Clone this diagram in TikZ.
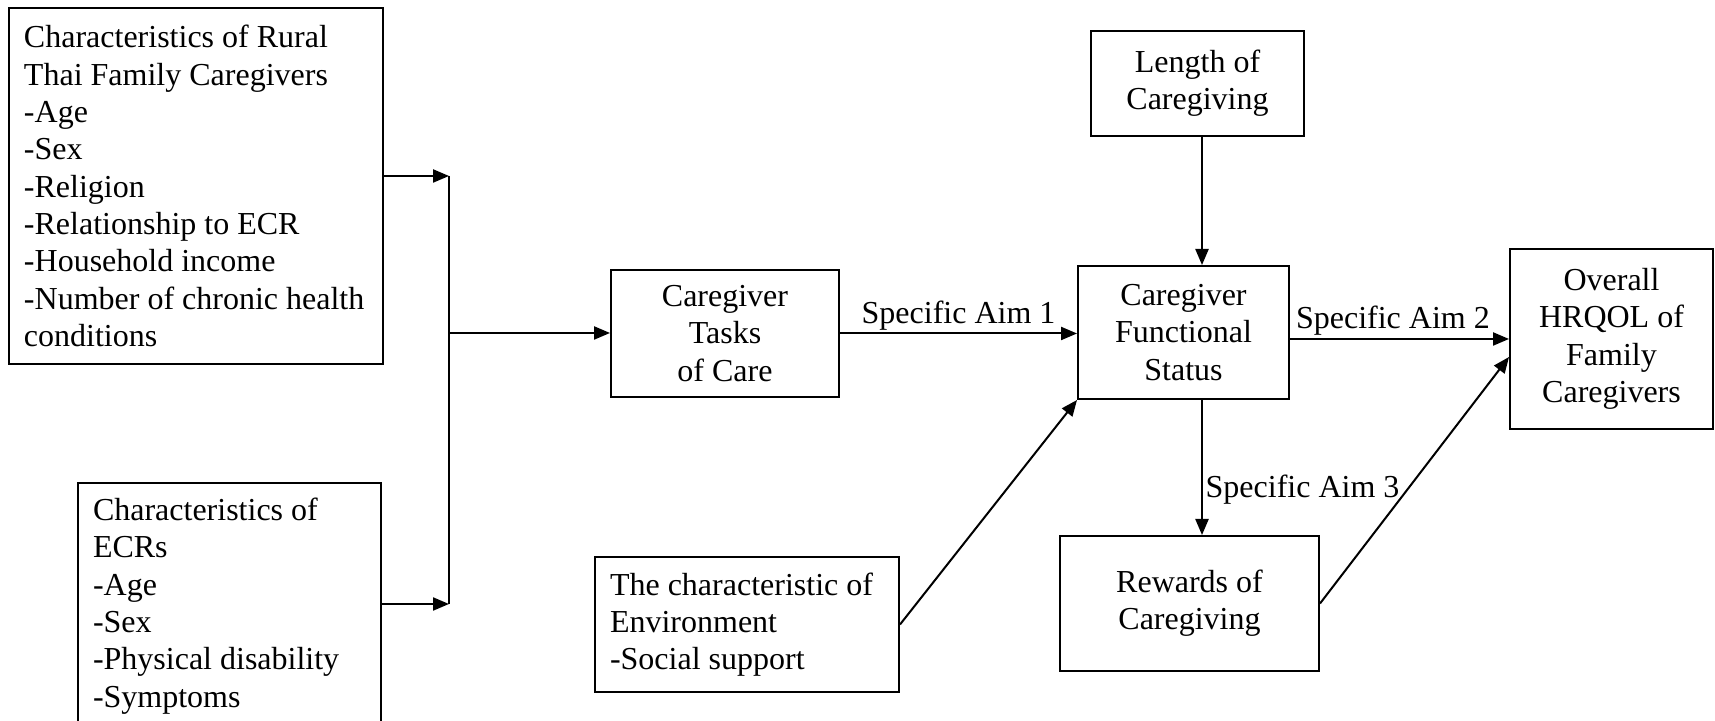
\documentclass[tikz,border=0pt]{standalone}
\usepackage{fontspec}
\setmainfont{Liberation Serif}
\usetikzlibrary{arrows.meta}
\newlength{\px}
\setlength{\px}{0.375pt}

\begin{document}
\begin{tikzpicture}[x=0.375pt,y=-0.375pt,
        font=\fontsize{12}{14}\selectfont,
        box/.style={draw,line width=0.75pt,inner sep=0pt,align=center},
        listbox/.style={draw,line width=0.75pt,inner xsep=15\px,inner ysep=0pt,align=flush left},
        arr/.style={line width=0.75pt,-{Triangle[length=6pt,width=4.9pt]}},
        lbl/.style={inner sep=1pt}]
    \useasboundingbox (0,0) rectangle (1715,721);
    \node[listbox,text width=344\px,minimum width=374\px,minimum height=356\px] (cgchar) at (196,186)
        {Characteristics of Rural\\Thai Family Caregivers\\-Age\\-Sex\\-Religion\\-Relationship to ECR\\-Household income\\-Number of chronic health\\conditions};
    \node[listbox,text width=273\px,minimum width=303\px,minimum height=246\px] (ecrchar) at (229.5,606)
        {Characteristics of\\ECRs\\-Age\\-Sex\\-Physical disability\\-Symptoms};
    \node[listbox,text width=274\px,minimum width=304\px,minimum height=135\px] (envchar) at (747,624.5)
        {The characteristic of\\Environment\\-Social support};
    \node[box,minimum width=228\px,minimum height=127\px] (tasks) at (725,333.5) {Caregiver\\Tasks\\of Care};
    \node[box,minimum width=211\px,minimum height=133\px] (functional) at (1183.5,332.5) {Caregiver\\Functional\\Status};
    \node[box,minimum width=213\px,minimum height=105\px] (length) at (1197.5,83.5) {Length of\\Caregiving};
    \node[box,minimum width=259\px,minimum height=135\px] (rewards) at (1189.5,603.5) {Rewards of\\Caregiving};
    \node[box,minimum width=203\px,minimum height=180\px] (overall) at (1611.5,339) {Overall\\HRQOL of\\Family\\Caregivers};

    \coordinate (jtop) at (449,176);
    \coordinate (jmid) at (449,333);
    \coordinate (jbot) at (449,604);

    \draw[arr] (cgchar.east |- jtop) -- (jtop);
    \draw[arr] (ecrchar.east |- jbot) -- (jbot);
    \draw[line width=0.75pt] (jtop) -- (jbot);
    \draw[arr] (jmid) -- (jmid -| tasks.west);

    \draw[arr] (tasks.east) -- (tasks.east -| functional.west) node[lbl,midway,above] {Specific Aim 1};
    \draw[arr] (functional.east |- overall.west) -- (overall.west) node[lbl,pos=0.47,above] {Specific Aim 2};
    \draw[arr] ([xshift=4.5\px]length.south) -- ([xshift=4.5\px]length.south |- functional.north);
    \draw[arr] ([xshift=18.5\px]functional.south) -- ([xshift=18.5\px]functional.south |- rewards.north)
        node[lbl,pos=0.665,right] {Specific Aim 3};
    \draw[arr] (envchar.east) -- (functional.south west);
    \draw[arr] (rewards.east) -- ([yshift=-18\px]overall.west);
\end{tikzpicture}
\end{document}
